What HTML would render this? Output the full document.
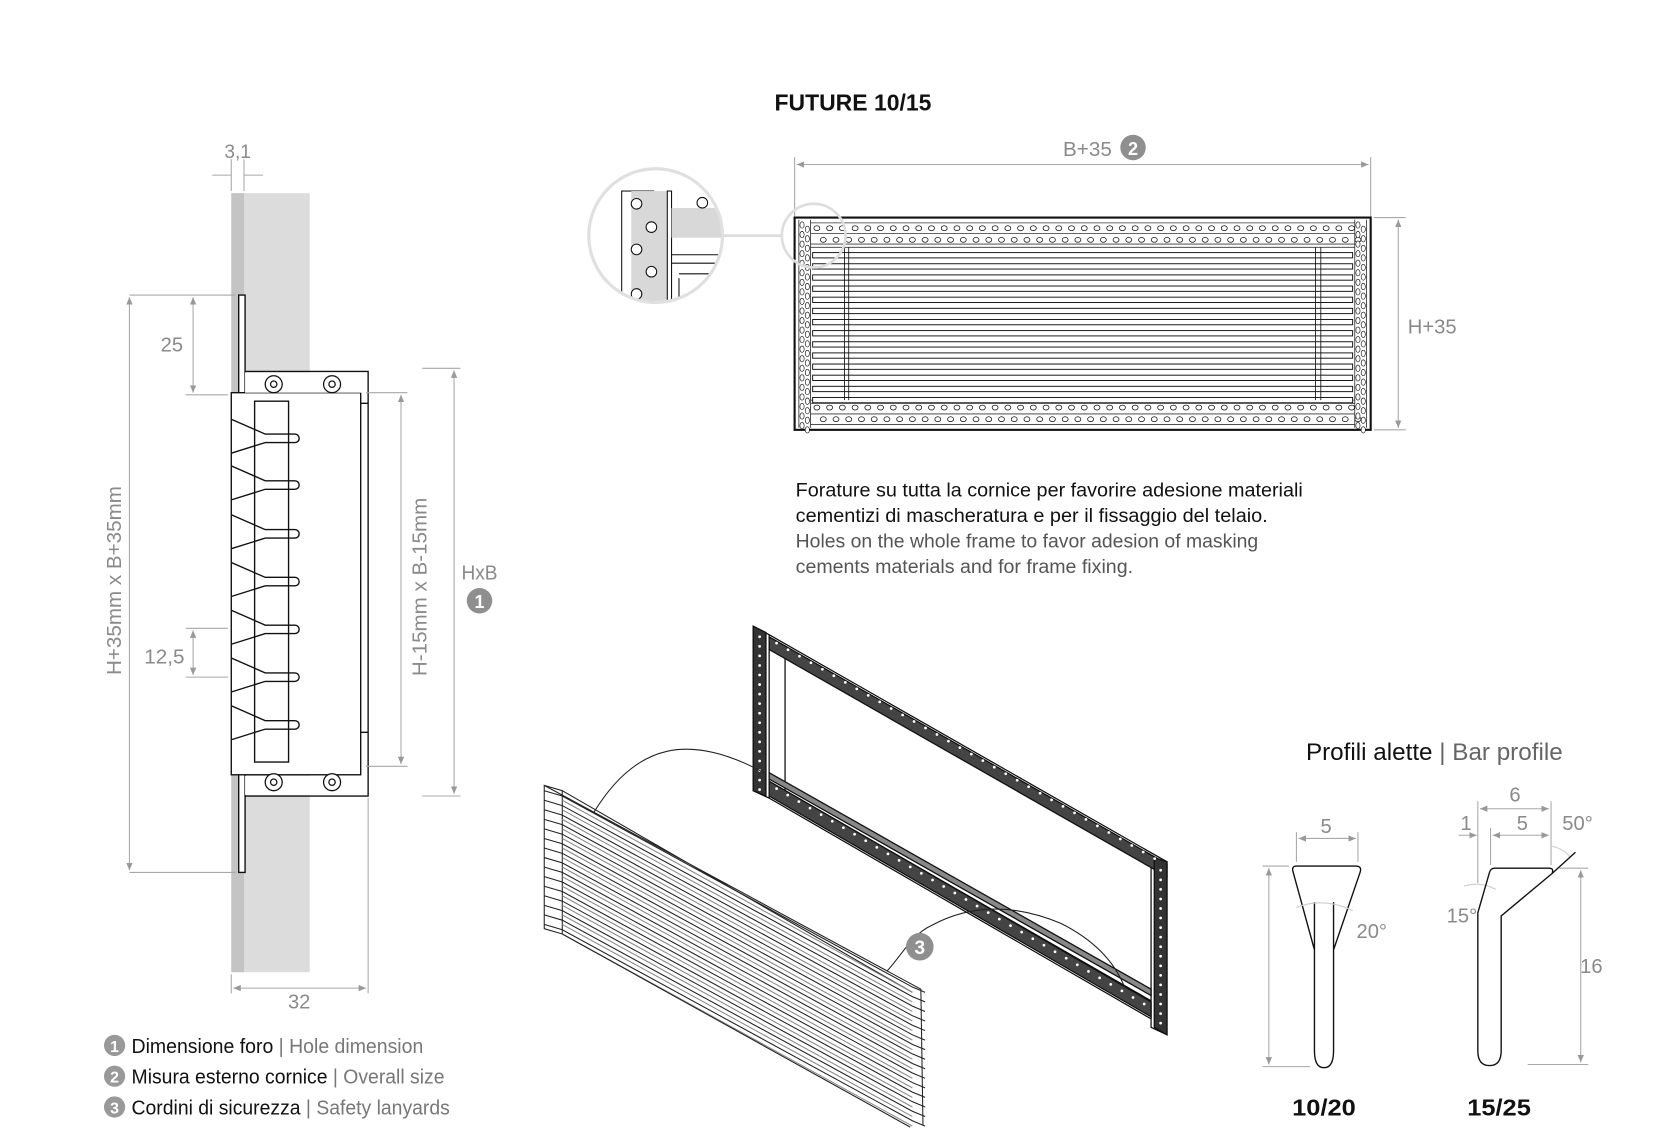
<!DOCTYPE html>
<html><head><meta charset="utf-8"><style>
html,body{margin:0;padding:0;background:#fff;}
svg{display:block}
text{font-family:"Liberation Sans",sans-serif;}
.g{fill:#8a8a8a}
.dim{stroke:#a8a8a8;stroke-width:1;fill:none}
.k{stroke:#111;fill:none;stroke-width:1.3}
</style></head><body>
<svg id="s" width="1655" height="1142" viewBox="0 0 1560 1076" preserveAspectRatio="none" xmlns="http://www.w3.org/2000/svg">
<defs>
<marker id="a" markerWidth="8" markerHeight="8" refX="7" refY="4" orient="auto-start-reverse"><path d="M0,1 L7,4 L0,7z" fill="#999"/></marker>
</defs>
<text x="730" y="104" font-size="22" font-weight="bold" fill="#111" textLength="148" lengthAdjust="spacingAndGlyphs">FUTURE 10/15</text>

<!-- LEFT SECTION -->
<rect x="218" y="182" width="74" height="734" fill="#dcdcdc"/>
<rect x="218" y="182" width="12" height="734" fill="#c4c4c4"/>
<rect x="225" y="278" width="6" height="544" fill="#fff" stroke="#111" stroke-width="1.3"/>
<rect x="218" y="370" width="122" height="360" fill="#fff" stroke="#111" stroke-width="1.3"/>
<rect x="231" y="351" width="115" height="19" fill="#fff"/>
<rect x="231" y="731" width="115" height="18" fill="#fff"/>
<path d="M231,350 H347 V750 H231" class="k"/>
<path d="M340,380 H347 M340,690 H347" class="k"/>
<rect x="240" y="378" width="32" height="340" fill="#fff" stroke="#111" stroke-width="1.3"/>
<g class="k" id="blades" stroke-width="1"></g>
<g fill="#fff" stroke="#111" stroke-width="1.2">
<circle cx="258" cy="362" r="8"/><circle cx="258" cy="362" r="3"/>
<circle cx="313" cy="362" r="8"/><circle cx="313" cy="362" r="3"/>
<circle cx="258" cy="737" r="8"/><circle cx="258" cy="737" r="3"/>
<circle cx="313" cy="737" r="8"/><circle cx="313" cy="737" r="3"/>
</g>
<path class="dim" d="M218,150 V180 M230,150 V180 M200,165 H218 M248,165 H230"/>
<text x="224" y="149" text-anchor="middle" font-size="18" class="g">3,1</text>
<path class="dim" d="M122,278 H222 M122,822 H222" />
<line class="dim" x1="122" y1="280" x2="122" y2="820" marker-start="url(#a)" marker-end="url(#a)"/>
<text transform="translate(114,547) rotate(-90)" text-anchor="middle" font-size="19" class="g" textLength="178" lengthAdjust="spacingAndGlyphs">H+35mm x B+35mm</text>
<path class="dim" d="M175,372 H215"/>
<line class="dim" x1="182" y1="280" x2="182" y2="370" marker-start="url(#a)" marker-end="url(#a)"/>
<text x="162" y="331" text-anchor="middle" font-size="19" class="g">25</text>
<path class="dim" d="M175,592 H215 M175,638 H215"/>
<line class="dim" x1="182" y1="594" x2="182" y2="636" marker-start="url(#a)" marker-end="url(#a)"/>
<text x="155" y="625" text-anchor="middle" font-size="19" class="g" textLength="38" lengthAdjust="spacingAndGlyphs">12,5</text>
<path class="dim" d="M345,370 H384 M345,722 H384"/>
<line class="dim" x1="378" y1="372" x2="378" y2="720" marker-start="url(#a)" marker-end="url(#a)"/>
<text transform="translate(402,553) rotate(-90)" text-anchor="middle" font-size="19" class="g" textLength="168" lengthAdjust="spacingAndGlyphs">H-15mm x B-15mm</text>
<path class="dim" d="M398,347 H434 M398,750 H434"/>
<line class="dim" x1="428" y1="349" x2="428" y2="748" marker-start="url(#a)" marker-end="url(#a)"/>
<text x="452" y="546" text-anchor="middle" font-size="19" class="g" textLength="34" lengthAdjust="spacingAndGlyphs">HxB</text>
<circle cx="452" cy="566" r="12" fill="#8f8f8f"/><text x="452" y="573" text-anchor="middle" font-size="17" font-weight="bold" fill="#fff">1</text>
<path class="dim" d="M218,918 V936 M347,752 V936"/>
<line class="dim" x1="220" y1="931" x2="345" y2="931" marker-start="url(#a)" marker-end="url(#a)"/>
<text x="282" y="950" text-anchor="middle" font-size="19" class="g">32</text>

<!-- legend -->
<g font-size="19">
<circle cx="108" cy="985" r="10" fill="#999"/><text x="108" y="991" text-anchor="middle" font-size="15" font-weight="bold" fill="#fff">1</text>
<text x="124" y="992" textLength="275" lengthAdjust="spacingAndGlyphs"><tspan fill="#111">Dimensione foro</tspan><tspan fill="#777"> | Hole dimension</tspan></text>
<circle cx="108" cy="1014" r="10" fill="#999"/><text x="108" y="1020" text-anchor="middle" font-size="15" font-weight="bold" fill="#fff">2</text>
<text x="124" y="1021" textLength="295" lengthAdjust="spacingAndGlyphs"><tspan fill="#111">Misura esterno cornice</tspan><tspan fill="#777"> | Overall size</tspan></text>
<circle cx="108" cy="1043" r="10" fill="#999"/><text x="108" y="1049" text-anchor="middle" font-size="15" font-weight="bold" fill="#fff">3</text>
<text x="124" y="1050" textLength="300" lengthAdjust="spacingAndGlyphs"><tspan fill="#111">Cordini di sicurezza</tspan><tspan fill="#777"> | Safety lanyards</tspan></text>
</g>

<!-- TOP VIEW -->
<path class="dim" d="M749,148 V205 M1292,148 V205"/>
<line class="dim" x1="751" y1="155" x2="1290" y2="155" marker-start="url(#a)" marker-end="url(#a)"/>
<text x="1025" y="147" text-anchor="middle" font-size="19" class="g" textLength="46" lengthAdjust="spacingAndGlyphs">B+35</text>
<circle cx="1068" cy="139" r="12" fill="#8f8f8f"/><text x="1068" y="146" text-anchor="middle" font-size="17" font-weight="bold" fill="#fff">2</text>
<path class="dim" d="M1295,205 H1325 M1295,405 H1325"/>
<line class="dim" x1="1318" y1="207" x2="1318" y2="403" marker-start="url(#a)" marker-end="url(#a)"/>
<text x="1350" y="314" text-anchor="middle" font-size="19" class="g" textLength="46" lengthAdjust="spacingAndGlyphs">H+35</text>
<rect x="749" y="205" width="543" height="200" fill="#fff" stroke="#111" stroke-width="2"/>
<g id="tv"></g>
<circle cx="767" cy="222" r="30" fill="none" stroke="#ddd" stroke-width="2.5"/>
<line x1="680" y1="222" x2="737" y2="222" stroke="#ddd" stroke-width="2.5"/>
<clipPath id="cc"><circle cx="618" cy="222" r="62"/></clipPath>
<g clip-path="url(#cc)">
<rect x="556" y="160" width="130" height="130" fill="#fff"/>
<rect x="586" y="180" width="30" height="110" fill="#fff" stroke="#111"/>
<rect x="595" y="180" width="34" height="110" fill="#d8d8d8"/>
<rect x="629" y="180" width="4" height="110" fill="#fff" stroke="#111"/>
<rect x="633" y="196" width="50" height="28" fill="#d8d8d8"/>
<path d="M633,240 H690 M633,248 H690 M640,258 H690 M640,262 V290" stroke="#111" fill="none"/>
<g fill="#fff" stroke="#111"><circle cx="600" cy="192" r="5"/><circle cx="614" cy="214" r="5"/><circle cx="600" cy="235" r="5"/><circle cx="614" cy="256" r="5"/><circle cx="600" cy="277" r="5"/><circle cx="662" cy="191" r="5"/></g>
</g>
<circle cx="618" cy="222" r="63" fill="none" stroke="#e0e0e0" stroke-width="3"/>

<g font-size="18.5">
<text x="750" y="468" fill="#111" textLength="478" lengthAdjust="spacingAndGlyphs">Forature su tutta la cornice per favorire adesione materiali</text>
<text x="750" y="492" fill="#111" textLength="445" lengthAdjust="spacingAndGlyphs">cementizi di mascheratura e per il fissaggio del telaio.</text>
<text x="750" y="516" fill="#555" textLength="436" lengthAdjust="spacingAndGlyphs">Holes on the whole frame to favor adesion of masking</text>
<text x="750" y="540" fill="#555" textLength="318" lengthAdjust="spacingAndGlyphs">cements materials and for frame fixing.</text>
</g>

<!-- ISOMETRIC -->
<g id="iso" stroke="#111" fill="none" stroke-width="1.2">
<path d="M710,590 L725,598 L1100,812 L1100,975 L1085,968 L1085,960 L725,752 L710,745 Z" fill="#fff"/>
<path d="M725,598 L725,752 M740,612 L1085,808 L1085,960 M740,612 L740,745 L1085,943" />
<path d="M725,600 L1100,814 L1100,826 L725,612Z" fill="#444"/>
<path d="M725,736 L1085,944 L1085,958 L725,750Z" fill="#444"/>
<path d="M725,728 L1085,932 L1085,938 L725,734Z" fill="#888"/>
<path d="M710,590 L722,596 L722,750 L710,745Z" fill="#333"/>
<path d="M1088,808 L1100,812 L1100,975 L1088,968Z" fill="#333"/>
</g>
<g id="dots"></g>
<path d="M560,765 C600,700 650,690 720,728" stroke="#222" fill="none"/>
<path d="M836,915 C850,900 860,880 878,872 C900,860 940,845 1000,870 C1030,885 1050,905 1060,930" stroke="#222" fill="none"/>
<g id="grille" stroke="#222" fill="none" stroke-width="1"></g>
<circle cx="867" cy="892" r="13" fill="#8f8f8f"/><text x="867" y="899" text-anchor="middle" font-size="18" font-weight="bold" fill="#fff">3</text>

<!-- PROFILES -->
<text x="1231" y="716" font-size="23" fill="#111" textLength="242" lengthAdjust="spacingAndGlyphs">Profili alette<tspan fill="#666"> | Bar profile</tspan></text>
<path class="dim" d="M1222,784 V812 M1280,784 V812"/>
<line class="dim" x1="1224" y1="790" x2="1278" y2="790" marker-start="url(#a)" marker-end="url(#a)"/>
<text x="1250" y="785" text-anchor="middle" font-size="19" class="g">5</text>
<path class="dim" d="M1190,816 H1215 M1190,1005 H1235"/>
<line class="dim" x1="1196" y1="818" x2="1196" y2="1003" marker-start="url(#a)" marker-end="url(#a)"/>
<path d="M1222,816 H1278 Q1284,816 1282,822 L1257,895 V990 Q1257,1006 1248,1006 Q1239,1006 1239,990 V895 L1219,822 Q1217,816 1222,816Z M1239,895 V850 M1257,895 V850" class="k" stroke-width="1.6" fill="#fff"/>
<path d="M1222,855 Q1248,845 1275,858" stroke="#ccc" fill="none"/>
<text x="1293" y="884" text-anchor="middle" font-size="19" class="g">20°</text>
<text x="1248" y="1051" text-anchor="middle" font-size="22" font-weight="bold" fill="#111" textLength="60" lengthAdjust="spacingAndGlyphs">10/20</text>

<path class="dim" d="M1393,755 V832 M1405,780 V815 M1462,755 V815"/>
<line class="dim" x1="1395" y1="762" x2="1460" y2="762" marker-start="url(#a)" marker-end="url(#a)"/>
<line class="dim" x1="1407" y1="787" x2="1460" y2="787" marker-start="url(#a)" marker-end="url(#a)"/>
<line class="dim" x1="1375" y1="787" x2="1392" y2="787" marker-end="url(#a)"/>
<text x="1428" y="755" text-anchor="middle" font-size="19" class="g">6</text>
<text x="1382" y="782" text-anchor="middle" font-size="19" class="g">1</text>
<text x="1435" y="782" text-anchor="middle" font-size="19" class="g">5</text>
<text x="1487" y="782" text-anchor="middle" font-size="19" class="g">50°</text>
<text x="1378" y="869" text-anchor="middle" font-size="19" class="g">15°</text>
<path d="M1462,797 Q1475,800 1480,808" stroke="#ccc" fill="none"/>
<path d="M1380,835 Q1395,830 1410,838" stroke="#ccc" fill="none"/>
<path d="M1409,818 H1460 Q1465,818 1463,823 L1415,863 V990 Q1415,1004 1404,1004 Q1393,1004 1393,990 V860 L1404,822 Q1405,818 1409,818Z M1463,823 L1485,803" class="k" stroke-width="1.6" fill="#fff"/>
<path class="dim" d="M1470,818 H1497 M1440,1003 H1497"/>
<line class="dim" x1="1490" y1="820" x2="1490" y2="1001" marker-start="url(#a)" marker-end="url(#a)"/>
<text x="1500" y="917" text-anchor="middle" font-size="19" class="g">16</text>
<text x="1413" y="1051" text-anchor="middle" font-size="22" font-weight="bold" fill="#111" textLength="60" lengthAdjust="spacingAndGlyphs">15/25</text>
</svg>
<script>
var NS="http://www.w3.org/2000/svg";
function el(p,t,a){var e=document.createElementNS(NS,t);for(var k in a)e.setAttribute(k,a[k]);p.appendChild(e);return e;}
var b=document.getElementById('blades');
[413,457,503,548,593,638,683].forEach(function(y){
 el(b,'path',{d:'M218,'+(y-18)+' L250,'+(y-4)+' H278 A4,4 0 0 1 278,'+(y+4)+' H250 L218,'+(y+14)});
});
var tv=document.getElementById('tv');
// rails
el(tv,'path',{d:'M764,207 V403 M1277,207 V403 M764,233 H1277 M764,377 H1277 M764,210 H1277 M764,220 H1277 M764,230 H1277 M764,380 H1277 M764,390 H1277 M764,400 H1277 M753,207 V403 M1288,207 V403',stroke:'#333','stroke-width':0.8,fill:'none'});
for(var i=0;i<14;i++){var y=238+i*10.5;el(tv,'rect',{x:766,y:y,width:509,height:5,fill:'#fff',stroke:'#111','stroke-width':0.9});}
el(tv,'path',{d:'M796,233 V377 M800,233 V377 M1240,233 V377 M1245,233 V377',stroke:'#111',fill:'none','stroke-width':0.8});
for(var x=770;x<1275;x+=12){[215,226,384,395].forEach(function(y){el(tv,'ellipse',{cx:x+((y==226||y==395)?6:0),cy:y,rx:2.8,ry:2.3,fill:'#fff',stroke:'#111','stroke-width':0.7});});}
for(var y=212;y<402;y+=9){[756,761,1280,1285].forEach(function(x,j){el(tv,'ellipse',{cx:x,cy:y+(j%2?4:0),rx:2,ry:3,fill:'#fff',stroke:'#111','stroke-width':0.6});});}
var d=document.getElementById('dots');
for(var t=0;t<=1;t+=0.03){el(d,'circle',{cx:732+t*360,cy:606+t*205,r:1.3,fill:'#fff'});el(d,'circle',{cx:732+t*350,cy:743+t*205,r:1.3,fill:'#fff'});}
for(var y=600;y<745;y+=9){el(d,'circle',{cx:716,cy:y,r:1.3,fill:'#fff'});}
for(var y=820;y<970;y+=9){el(d,'circle',{cx:1094,cy:y,r:1.3,fill:'#fff'});}
var g=document.getElementById('grille');
el(g,'path',{d:'M513,740 L530,745 L530,880 L513,875Z M513,740 L868,932 L870,1060 M530,745 L860,935',fill:'#fff'});
for(var i=0;i<15;i++){var dy=i*9;
 el(g,'path',{d:'M513,'+(745+dy)+' L530,'+(750+dy)+' L860,'+(930+dy)+' L872,'+(935+dy)});
 el(g,'path',{d:'M530,'+(754+dy)+' L860,'+(935+dy),stroke:'#888'});}
el(g,'path',{d:'M530,880 L858,1062'});
</script>
</body></html>
